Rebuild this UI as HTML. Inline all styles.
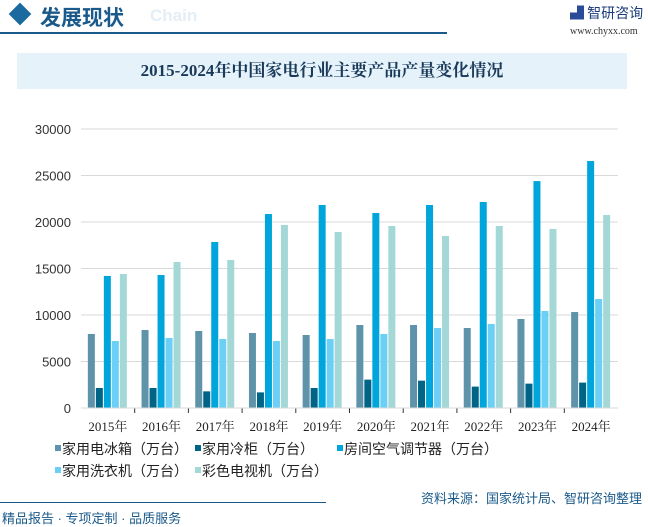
<!DOCTYPE html>
<html><head><meta charset="utf-8">
<style>
body{margin:0;width:648px;height:525px;background:#fff;overflow:hidden;position:relative;font-family:"Liberation Sans","Noto Sans CJK SC",sans-serif}
.a{position:absolute;white-space:nowrap}
</style></head><body>
<div class="a" style="left:12px;top:6px;width:16px;height:16px;background:#1a6aa0;transform:rotate(45deg)"></div>
<div class="a" style="left:150px;top:6px;font-size:17px;font-weight:bold;color:#e3eef6">Chain</div>
<div class="a" style="left:40px;top:2px;font-size:21px;font-weight:bold;color:#1a5a8a;font-family:'Noto Sans CJK SC',sans-serif">发展现状</div>
<div class="a" style="left:0;top:32px;width:447px;height:2px;background:#1a5a8a"></div>
<div class="a" style="left:570px;top:3px;font-size:14px;color:#1a3a7a;font-family:'Noto Sans CJK SC',sans-serif"><span style="color:#2a4a9a;font-weight:bold">▟</span> 智研咨询</div>
<div class="a" style="left:570px;top:26px;font-size:10px;color:#333;font-family:'Liberation Serif',serif">www.chyxx.com</div>
<div class="a" style="left:17px;top:53px;width:610px;height:36px;background:#e5f2fa;text-align:center;line-height:36px;font-size:17px;font-weight:bold;color:#1a3a5a;font-family:'Liberation Serif','Noto Serif CJK SC',serif">2015-2024年中国家电行业主要产品产量变化情况</div>
<svg id="c" class="a" style="left:0;top:0" width="648" height="525"></svg>
<div class="a" style="left:421px;top:488px;font-size:13px;color:#1a5a8a">资料来源：国家统计局、智研咨询整理</div>
<div class="a" style="left:0;top:502px;width:326px;height:1px;background:#1a5a8a"></div>
<div class="a" style="left:2px;top:508px;font-size:13px;color:#1a5a8a">精品报告 · 专项定制 · 品质服务</div>
<script>
const categories=["2015年","2016年","2017年","2018年","2019年","2020年","2021年","2022年","2023年","2024年"];
const seriesNames=["家用电冰箱（万台）","家用冷柜（万台）","房间空气调节器（万台）","家用洗衣机（万台）","彩色电视机（万台）"];
const fridge=[7960,8390,8280,8065,7850,8925,8925,8600,9570,10320];
const freezer=[2150,2150,1790,1680,2150,3050,2940,2300,2620,2730];
const ac=[14200,14300,17850,20860,21830,20970,21830,22150,24400,26560];
const washer=[7200,7530,7420,7200,7420,7960,8600,9030,10430,11720];
const tv=[14410,15700,15920,19680,18920,19570,18500,19570,19250,20750];
const yTicks=[0,5000,10000,15000,20000,25000,30000];
const colors=["#5f93aa","#006487","#00a5dc","#6ccff5","#a3d8d6"];
const series=[fridge,freezer,ac,washer,tv];
const NS="http://www.w3.org/2000/svg";
const svg=document.getElementById('c');
const x0=81,x1=618,y0=408,y1=129;
const band=(x1-x0)/categories.length;
const Y=v=>y0-(v/30000)*(y0-y1);
const X=i=>x0+band*(i+0.5);
function mk(t,a){const e=document.createElementNS(NS,t);for(const k in a)e.setAttribute(k,a[k]);svg.appendChild(e);return e;}
yTicks.forEach(t=>{
  const l=mk('line',{x1:x0,x2:x1,y1:Y(t),y2:Y(t),stroke:'#d9d9d9','stroke-width':1});
  
  
  const tx=mk('text',{x:71,y:Y(t)+5,'text-anchor':'end','font-size':13,fill:'#333','font-family':'Liberation Sans,sans-serif'});
  tx.textContent=t;
  
  
});
for(let i=1;i<categories.length;i++){
  const t=mk('line',{x1:x0+band*i,x2:x0+band*i,y1:y0,y2:y0+5,stroke:'#333'});
  
  
}
categories.forEach((c,i)=>{
  series.forEach((s,j)=>{
    const bx=X(i)-20+j*8;
    const r=mk('rect',{x:bx,y:Y(s[i]),width:7,height:y0-Y(s[i]),fill:colors[j]});
    
    
  });
  const tx=mk('text',{x:X(i),y:431,'text-anchor':'middle','font-size':13,fill:'#222','font-family':'Liberation Serif,Noto Serif CJK SC,serif'});
  tx.textContent=c;
  
  
});
const lp=[[55,449],[195,449],[337,449],[55,471],[195,471]];
seriesNames.forEach((n,j)=>{
  const m=mk('rect',{x:lp[j][0],y:lp[j][1]-4,width:6,height:6,fill:colors[j]});
  
  
  const t=mk('text',{x:lp[j][0]+7,y:lp[j][1]+5,'font-size':14,fill:'#222','font-family':'Noto Sans CJK SC,sans-serif'});
  t.textContent=n;
  
  
});
const ax=mk('line',{x1:x0,x2:x1,y1:y0,y2:y0,stroke:'#d9d9d9'});


</script>
</body></html>
